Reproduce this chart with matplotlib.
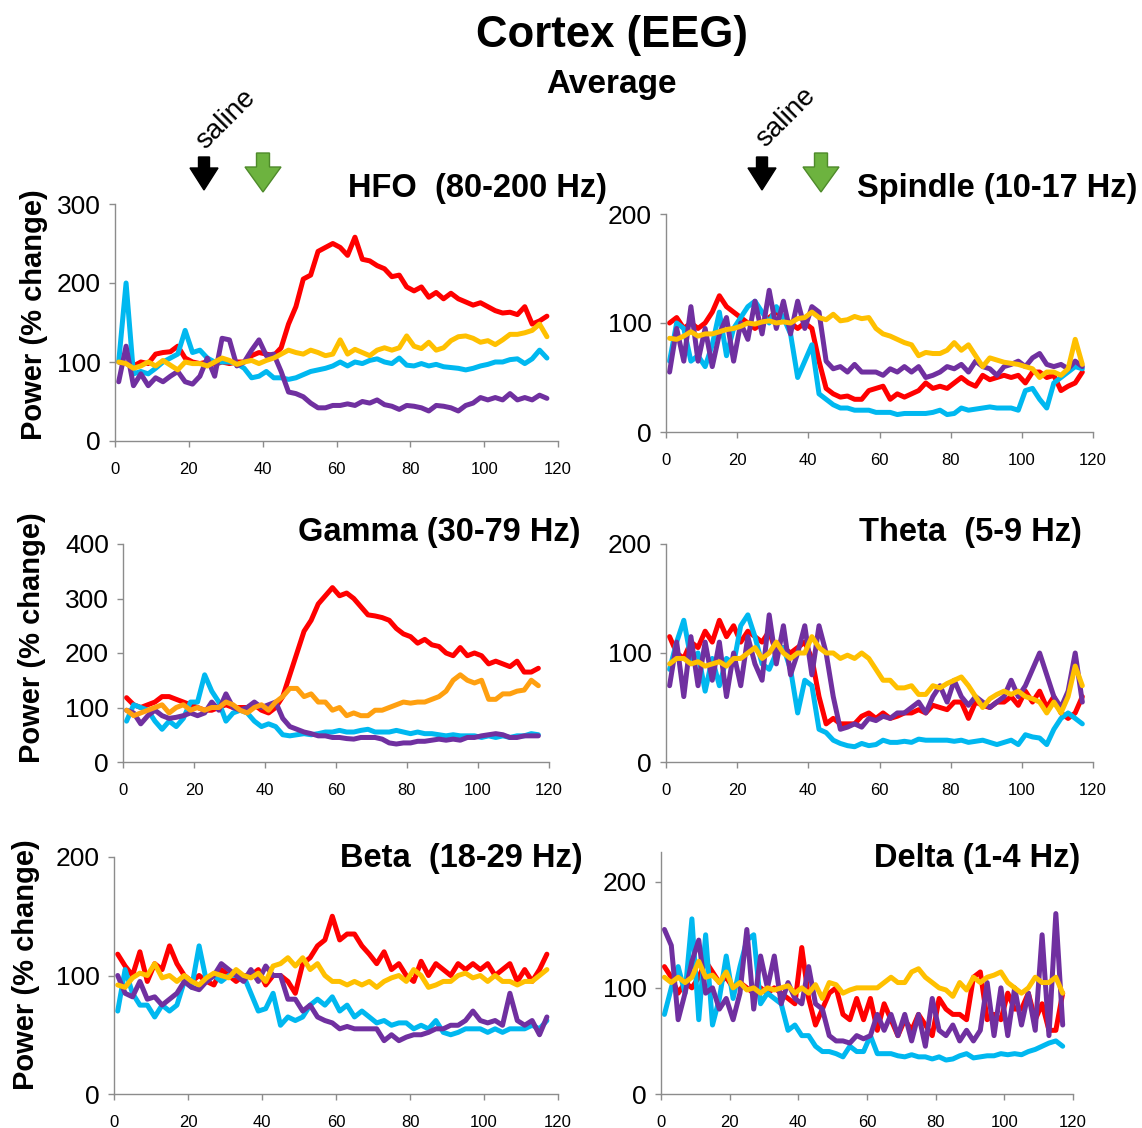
import matplotlib
matplotlib.use("Agg")
import matplotlib.pyplot as plt
from matplotlib.patches import Polygon

plt.rcParams['font.family'] = ['Liberation Sans', 'DejaVu Sans']

W, H = 1142, 1128

# time axis (min), one value every 2 min
TIME = list(range(1, 118, 2))

# HFO (80-200 Hz)
hfo_red = [100, 98, 95, 100, 98, 110, 112, 113, 120, 105,
           100, 98, 100, 97, 100, 98, 100, 100, 108, 112,
           110, 108, 118, 148, 170, 205, 210, 240, 245, 250,
           245, 235, 258, 230, 228, 222, 218, 208, 210, 195,
           190, 195, 182, 188, 180, 187, 180, 176, 172, 175,
           170, 165, 162, 163, 160, 170, 148, 152, 158]
hfo_cyan = [100, 200, 85, 88, 85, 92, 100, 105, 110, 140,
            112, 115, 105, 100, 100, 100, 98, 92, 80, 82,
            88, 80, 80, 78, 80, 84, 88, 90, 92, 95,
            100, 95, 100, 98, 102, 104, 100, 98, 105, 96,
            95, 98, 95, 97, 94, 93, 92, 90, 92, 95,
            97, 100, 100, 103, 104, 98, 104, 115, 105]
hfo_purple = [75, 120, 70, 85, 70, 80, 75, 82, 88, 75,
              72, 82, 105, 82, 130, 128, 95, 100, 115, 128,
              108, 110, 88, 62, 60, 56, 48, 42, 42, 45,
              45, 47, 45, 50, 48, 52, 46, 44, 40, 45,
              44, 42, 38, 45, 44, 42, 38, 45, 48, 55,
              52, 55, 52, 60, 52, 55, 52, 58, 54]
hfo_yellow = [100, 98, 92, 95, 100, 95, 102, 96, 90, 100,
              98, 98, 95, 100, 105, 102, 97, 100, 102, 98,
              102, 105, 110, 115, 112, 110, 115, 112, 108, 110,
              128, 110, 116, 112, 108, 115, 118, 115, 118, 133,
              120, 117, 125, 115, 118, 127, 132, 133, 130, 125,
              127, 122, 128, 135, 135, 137, 140, 148, 132]

# Spindle (10-17 Hz)
spindle_red = [100, 105, 95, 100, 95, 100, 110, 125, 115, 110,
               105, 100, 95, 100, 105, 110, 105, 100, 95, 100,
               95, 65, 40, 35, 32, 33, 30, 30, 38, 40,
               42, 30, 35, 32, 35, 38, 45, 40, 42, 40,
               45, 50, 45, 42, 52, 48, 50, 52, 50, 52,
               45, 55, 55, 50, 52, 38, 42, 45, 55]
spindle_cyan = [65, 100, 95, 65, 70, 60, 80, 110, 70, 95,
                105, 115, 120, 110, 100, 115, 105, 90, 50, 65,
                80, 35, 30, 25, 22, 22, 20, 20, 20, 18,
                18, 18, 16, 17, 17, 17, 17, 18, 20, 16,
                17, 22, 20, 21, 22, 23, 22, 22, 22, 20,
                38, 40, 30, 22, 45, 50, 55, 60, 58]
spindle_purple = [55, 95, 65, 115, 65, 95, 60, 90, 105, 65,
                  100, 85, 120, 90, 130, 95, 120, 90, 120, 95,
                  115, 110, 65, 58, 60, 55, 62, 55, 55, 55,
                  52, 58, 55, 60, 55, 60, 50, 52, 55, 60,
                  58, 62, 55, 65, 60, 58, 52, 60, 62, 65,
                  60, 68, 72, 62, 60, 62, 58, 65, 60]
spindle_yellow = [86, 85, 88, 92, 88, 90, 90, 92, 94, 95,
                  97, 100, 99, 101, 102, 100, 101, 100, 104, 105,
                  110, 105, 103, 108, 102, 103, 106, 104, 105, 95,
                  90, 88, 85, 82, 80, 70, 73, 72, 72, 75,
                  82, 75, 80, 70, 60, 68, 66, 64, 63, 62,
                  60, 58, 50, 55, 55, 52, 58, 85, 62]

# Gamma (30-79 Hz)
gamma_red = [118, 105, 100, 105, 110, 120, 120, 115, 110, 105,
             100, 95, 95, 100, 105, 100, 100, 100, 105, 95,
             90, 100, 120, 160, 200, 240, 260, 290, 305, 320,
             305, 310, 300, 285, 270, 268, 265, 260, 245, 235,
             230, 218, 225, 215, 212, 200, 195, 210, 195, 200,
             195, 180, 185, 180, 175, 185, 165, 165, 172]
gamma_cyan = [75, 105, 100, 95, 75, 60, 75, 65, 80, 110,
              110, 160, 130, 110, 75, 90, 95, 90, 75, 65,
              70, 65, 50, 48, 50, 52, 50, 52, 55, 55,
              58, 55, 55, 58, 60, 55, 55, 55, 58, 55,
              52, 55, 52, 52, 50, 48, 50, 48, 48, 48,
              45, 48, 45, 48, 45, 48, 48, 52, 50]
gamma_purple = [95, 90, 70, 85, 95, 85, 80, 82, 85, 90,
                85, 90, 110, 95, 125, 100, 95, 100, 110, 100,
                105, 110, 80, 65, 60, 55, 52, 48, 48, 45,
                45, 43, 42, 45, 45, 45, 42, 35, 33, 35,
                35, 38, 38, 40, 42, 40, 42, 40, 45, 45,
                48, 50, 52, 50, 45, 45, 48, 48, 48]
gamma_orange = [95, 85, 90, 95, 100, 105, 90, 100, 105, 95,
                100, 95, 100, 100, 110, 105, 95, 90, 100, 105,
                95, 110, 120, 135, 135, 120, 125, 110, 110, 95,
                100, 85, 90, 85, 85, 95, 95, 100, 105, 110,
                108, 110, 110, 115, 120, 130, 150, 160, 150, 145,
                150, 115, 115, 125, 125, 130, 132, 150, 140]

# Theta (5-9 Hz)
theta_red = [115, 100, 95, 110, 105, 120, 110, 130, 115, 125,
             110, 120, 115, 110, 120, 100, 105, 100, 105, 110,
             95, 60, 35, 40, 35, 35, 35, 42, 45, 40,
             45, 40, 42, 45, 45, 48, 45, 52, 50, 48,
             55, 55, 40, 55, 52, 50, 55, 55, 60, 52,
             65, 55, 65, 50, 60, 45, 40, 45, 60]
theta_cyan = [85, 110, 130, 95, 100, 65, 95, 70, 95, 90,
              125, 135, 115, 90, 85, 100, 105, 85, 45, 75,
              70, 30, 27, 20, 17, 15, 14, 17, 15, 16,
              20, 18, 18, 19, 18, 21, 20, 20, 20, 20,
              19, 20, 18, 19, 20, 18, 16, 18, 20, 16,
              25, 23, 22, 16, 30, 40, 45, 40, 35]
theta_purple = [70, 110, 60, 115, 70, 110, 75, 110, 60, 100,
                70, 115, 90, 75, 135, 90, 125, 80, 100, 125,
                80, 125, 100, 60, 30, 32, 35, 32, 40, 38,
                42, 40, 45, 45, 50, 55, 45, 60, 70, 55,
                75, 60, 52, 60, 55, 50, 55, 60, 75, 60,
                70, 85, 100, 80, 60, 50, 65, 100, 55]
theta_yellow = [90, 95, 95, 90, 92, 88, 90, 92, 88, 95,
                95, 100, 105, 95, 100, 110, 100, 95, 100, 100,
                115, 105, 100, 100, 95, 98, 95, 100, 95, 85,
                75, 75, 68, 68, 70, 62, 62, 70, 68, 72,
                75, 78, 70, 60, 50, 58, 62, 65, 62, 65,
                60, 58, 55, 45, 55, 45, 60, 88, 70]

# Beta (18-29 Hz)
beta_red = [118, 108, 100, 120, 95, 110, 105, 125, 110, 100,
            95, 100, 95, 92, 105, 100, 95, 100, 100, 105,
            92, 100, 100, 95, 85, 110, 115, 125, 130, 150,
            130, 135, 135, 125, 118, 110, 120, 105, 110, 100,
            95, 112, 100, 110, 105, 100, 110, 105, 110, 105,
            110, 100, 105, 110, 95, 105, 95, 105, 118]
beta_cyan = [70, 105, 85, 75, 75, 65, 75, 70, 75, 95,
             90, 125, 95, 100, 95, 100, 100, 100, 85, 70,
             72, 85, 58, 65, 62, 65, 75, 80, 75, 82,
             70, 75, 65, 70, 65, 60, 62, 58, 60, 60,
             55, 58, 55, 62, 52, 50, 52, 55, 55, 55,
             52, 55, 52, 55, 55, 55, 58, 55, 62]
beta_purple = [100, 85, 82, 95, 80, 82, 75, 80, 85, 95,
               90, 88, 95, 100, 110, 105, 100, 95, 105, 95,
               108, 100, 100, 80, 80, 70, 75, 65, 62, 60,
               55, 57, 55, 55, 55, 55, 45, 50, 45, 48,
               50, 50, 52, 55, 55, 58, 58, 62, 70, 62,
               60, 62, 58, 85, 62, 58, 62, 50, 65]
beta_yellow = [92, 90, 98, 102, 100, 110, 98, 100, 95, 100,
               95, 92, 98, 102, 100, 98, 105, 100, 98, 102,
               95, 108, 110, 115, 108, 115, 105, 110, 100, 95,
               95, 92, 95, 92, 95, 90, 95, 98, 100, 95,
               105, 100, 90, 92, 95, 95, 100, 102, 98, 100,
               95, 100, 95, 95, 92, 95, 95, 100, 105]

# Delta (1-4 Hz)
delta_red = [120, 110, 95, 105, 100, 110, 125, 115, 105, 110,
             100, 105, 100, 95, 100, 95, 100, 95, 90, 85,
             138, 90, 65, 80, 95, 100, 75, 70, 90, 70,
             90, 60, 85, 70, 55, 70, 60, 75, 65, 55,
             90, 80, 75, 75, 70, 110, 115, 70, 75, 70,
             95, 80, 80, 95, 70, 85, 60, 60, 95]
delta_cyan = [75, 100, 120, 95, 165, 70, 150, 65, 90, 130,
              90, 120, 145, 150, 85, 95, 90, 85, 60, 65,
              55, 55, 45, 40, 40, 38, 35, 45, 40, 40,
              55, 38, 38, 38, 36, 35, 37, 35, 35, 33,
              35, 32, 33, 36, 38, 34, 35, 36, 36, 38,
              37, 38, 37, 40, 42, 45, 48, 50, 45]
delta_purple = [155, 140, 70, 95, 125, 145, 95, 100, 80, 90,
                70, 95, 155, 80, 130, 100, 130, 85, 105, 90,
                85, 120, 85, 80, 55, 50, 50, 48, 55, 52,
                55, 75, 60, 75, 55, 75, 50, 75, 45, 90,
                60, 55, 65, 50, 60, 50, 60, 105, 55, 100,
                55, 100, 65, 95, 60, 150, 55, 170, 65]
delta_yellow = [110, 105, 110, 105, 110, 125, 110, 112, 105, 115,
                100, 105, 98, 100, 95, 100, 98, 100, 102, 95,
                100, 95, 103, 90, 105, 103, 95, 98, 100, 100,
                100, 100, 105, 110, 105, 105, 115, 118, 110, 105,
                100, 98, 92, 105, 98, 110, 105, 110, 112, 115,
                105, 100, 95, 100, 110, 105, 105, 110, 95]

RED, CYAN, PURPLE, YELLOW, ORANGE = '#FF0000', '#00B8F0', '#7030A0', '#FFC000', '#FFA010'
GRAY = '#8C8C8C'

fig = plt.figure(figsize=(W / 100, H / 100), dpi=100)


def px_axes(left, top, right, bottom):
    return fig.add_axes([left / W, 1 - bottom / H, (right - left) / W, (bottom - top) / H])


def fig_xy(x, y):
    return (x / W, 1 - y / H)


def panel(box, series, ymax, yticks):
    ax = px_axes(*box)
    for vals, col in series:
        ax.plot(TIME, vals, color=col, lw=3.6, solid_joinstyle='round', solid_capstyle='round')
    ax.set_xlim(0, 120)
    ax.set_ylim(0, ymax)
    ax.set_xticks([0, 20, 40, 60, 80, 100, 120])
    ax.set_yticks(yticks)
    for s in ['top', 'right']:
        ax.spines[s].set_visible(False)
    for s in ['left', 'bottom']:
        ax.spines[s].set_color(GRAY)
        ax.spines[s].set_linewidth(1)
    ax.tick_params(axis='both', direction='out', length=4, width=1, color=GRAY)
    ax.tick_params(axis='x', labelsize=12, pad=11)
    ax.tick_params(axis='y', labelsize=19, pad=6)
    return ax


panel((115, 204, 558, 441),
      [(hfo_red, RED), (hfo_cyan, CYAN), (hfo_purple, PURPLE), (hfo_yellow, YELLOW)],
      300, [0, 100, 200, 300])
panel((666, 214, 1093, 432),
      [(spindle_red, RED), (spindle_cyan, CYAN), (spindle_purple, PURPLE), (spindle_yellow, YELLOW)],
      200, [0, 100, 200])
panel((123, 544, 549, 762),
      [(gamma_red, RED), (gamma_cyan, CYAN), (gamma_purple, PURPLE), (gamma_orange, ORANGE)],
      400, [0, 100, 200, 300, 400])
panel((666, 544, 1093, 762),
      [(theta_red, RED), (theta_cyan, CYAN), (theta_purple, PURPLE), (theta_yellow, YELLOW)],
      200, [0, 100, 200])
panel((114, 857, 558, 1094),
      [(beta_red, RED), (beta_cyan, CYAN), (beta_purple, PURPLE), (beta_yellow, YELLOW)],
      200, [0, 100, 200])
panel((661, 852, 1073, 1094),
      [(delta_red, RED), (delta_cyan, CYAN), (delta_purple, PURPLE), (delta_yellow, YELLOW)],
      228, [0, 100, 200])

# titles
fig.text(*fig_xy(612, 35), 'Cortex (EEG)', ha='center', va='center', fontsize=31.5, fontweight='bold')
fig.text(*fig_xy(611, 84), 'Average', ha='center', va='center', fontsize=24, fontweight='bold')

panel_titles = [('HFO  (80-200 Hz)', 607, 188), ('Spindle (10-17 Hz)', 1137, 188),
                ('Gamma (30-79 Hz)', 581, 532), ('Theta  (5-9 Hz)', 1082, 532),
                ('Beta  (18-29 Hz)', 583, 858), ('Delta (1-4 Hz)', 1080, 858)]
for txt, x, y in panel_titles:
    fig.text(*fig_xy(x, y), txt, ha='right', va='center', fontsize=23.5, fontweight='bold')

for x, y in [(34, 315), (32, 638), (26, 965)]:
    fig.text(*fig_xy(x, y), 'Power (% change)', ha='center', va='center', rotation=90,
             fontsize=21, fontweight='bold')

# saline label and injection arrows
for x, y in [(226, 119), (786, 117)]:
    fig.text(*fig_xy(x, y), 'saline', ha='center', va='center', rotation=45, fontsize=20)


def block_arrow(cx, top, bottom, shaft_w, head_w, head_h, face, edge):
    pts = [(cx - shaft_w / 2, top), (cx + shaft_w / 2, top), (cx + shaft_w / 2, bottom - head_h),
           (cx + head_w / 2, bottom - head_h), (cx, bottom), (cx - head_w / 2, bottom - head_h),
           (cx - shaft_w / 2, bottom - head_h)]
    fig.patches.append(Polygon([fig_xy(px, py) for px, py in pts], closed=True,
                               transform=fig.transFigure, facecolor=face, edgecolor=edge, lw=1))


for bx, gx in [(204, 263), (762, 821)]:
    block_arrow(bx, 157, 190, 11, 28, 22, 'black', 'black')
    block_arrow(gx, 153, 192, 13, 36, 25, '#6DB33F', '#4E8A2A')

fig.savefig('out.png', dpi=100, facecolor='white')
